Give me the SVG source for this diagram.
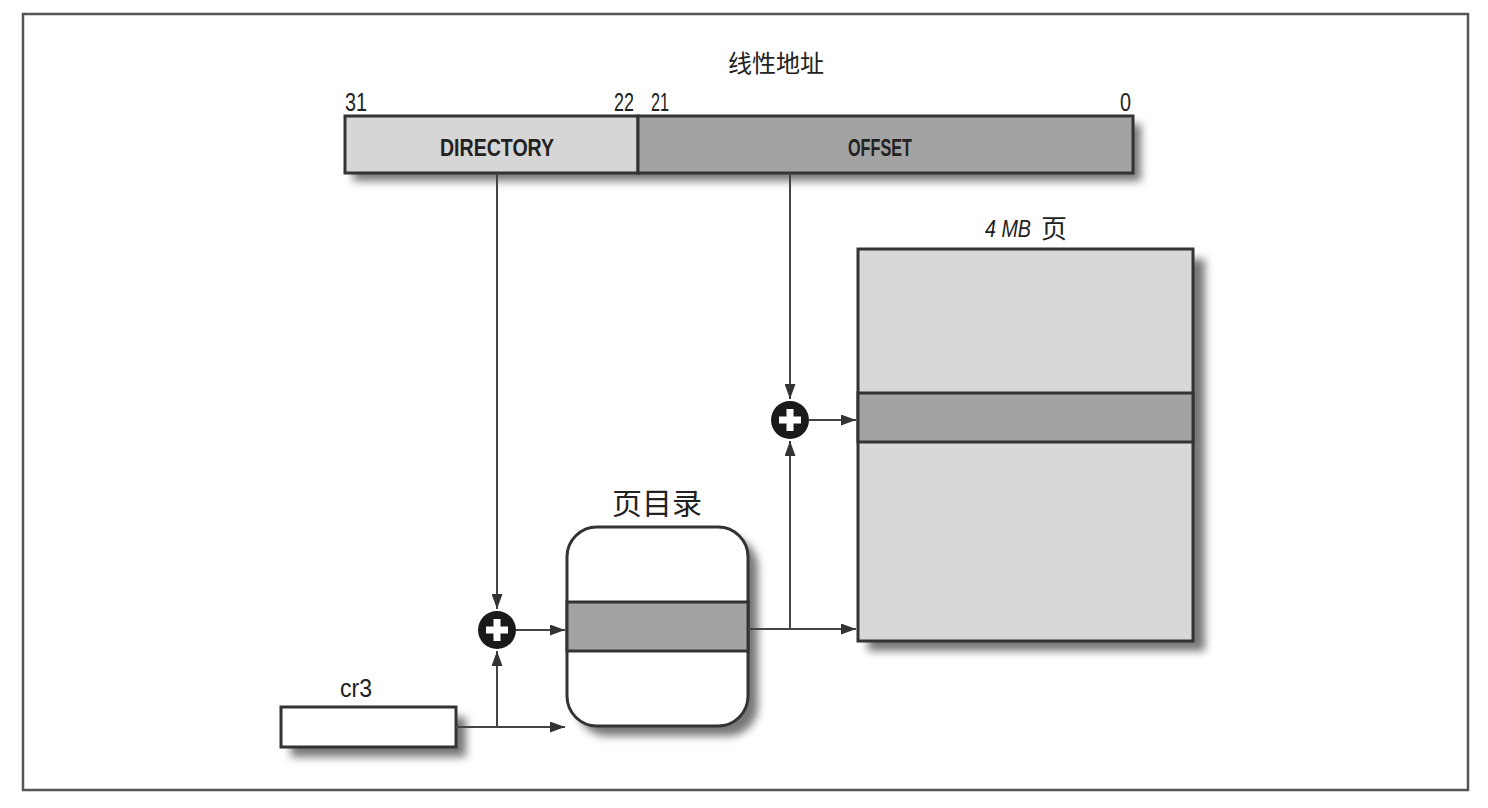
<svg xmlns="http://www.w3.org/2000/svg" width="1488" height="808" viewBox="0 0 1488 808">
<defs>
<filter id="sh" x="-20%" y="-20%" width="150%" height="150%"><feGaussianBlur stdDeviation="4"/></filter>
<marker id="ar" markerWidth="15" markerHeight="11" refX="15" refY="5.5" orient="auto" markerUnits="userSpaceOnUse"><path d="M0,0 L15,5.5 L0,11 Z" fill="#333"/></marker>
<style>
.ln{stroke:#444;stroke-width:2;fill:none}
.box{stroke:#333;stroke-width:3}
.lbl{font-family:"Liberation Sans","Noto Sans CJK SC",sans-serif;fill:#222}
.cjk{font-family:"Noto Sans CJK SC",sans-serif;fill:#222}
.shd{fill:#777;filter:url(#sh)}
</style>
</defs>
<rect x="0" y="0" width="1488" height="808" fill="#fff"/>
<rect x="23" y="14" width="1445" height="776" fill="none" stroke="#555" stroke-width="2.5"/>

<text class="cjk" x="776" y="72" font-size="24" text-anchor="middle">线性地址</text>

<g id="linear-address">
<rect class="shd" x="353" y="124" width="788" height="57"/>
<rect x="345" y="116" width="293" height="57" fill="#d6d6d6" class="box"/>
<rect x="638" y="116" width="495" height="57" fill="#a3a3a3" class="box"/>
<text class="lbl" x="345" y="111" font-size="25" textLength="22" lengthAdjust="spacingAndGlyphs">31</text>
<text class="lbl" x="614" y="111" font-size="25" textLength="20" lengthAdjust="spacingAndGlyphs">22</text>
<text class="lbl" x="651" y="111" font-size="25" textLength="18" lengthAdjust="spacingAndGlyphs">21</text>
<text class="lbl" x="1120" y="111" font-size="25" textLength="11" lengthAdjust="spacingAndGlyphs">0</text>
<text class="lbl" x="497" y="156" font-size="23" font-weight="bold" text-anchor="middle" textLength="114" lengthAdjust="spacingAndGlyphs">DIRECTORY</text>
<text class="lbl" x="880" y="156" font-size="23" font-weight="bold" text-anchor="middle" textLength="64" lengthAdjust="spacingAndGlyphs">OFFSET</text>
</g>

<g id="page-4mb">
<text class="lbl" x="985" y="237" font-size="24" font-style="italic" textLength="46" lengthAdjust="spacingAndGlyphs">4 MB</text>
<text class="cjk" x="1054" y="238" font-size="26" text-anchor="middle">页</text>
<rect class="shd" x="868" y="259" width="337" height="392"/>
<rect x="858" y="249" width="335" height="392" fill="#d8d8d8" class="box"/>
<rect x="858" y="393" width="335" height="49" fill="#a3a3a3" class="box"/>
</g>

<g id="page-directory">
<text class="cjk" x="657" y="514" font-size="30" text-anchor="middle">页目录</text>
<rect class="shd" x="577" y="537" width="181" height="199" rx="30"/>
<rect x="567" y="527" width="181" height="199" rx="30" fill="#fff" class="box"/>
<rect x="567" y="602" width="181" height="49" fill="#a3a3a3" class="box"/>
</g>

<g id="cr3">
<text class="lbl" x="356" y="697" font-size="25" text-anchor="middle" textLength="32" lengthAdjust="spacingAndGlyphs">cr3</text>
<rect class="shd" x="291" y="717" width="175" height="40"/>
<rect x="281" y="707" width="175" height="40" fill="#fff" class="box"/>
</g>

<g id="plus-upper">
<circle cx="790" cy="420" r="19" fill="#1a1a1a"/>
<path d="M779,420 H801 M790,409 V431" stroke="#fff" stroke-width="7"/>
</g>
<g id="plus-lower">
<circle cx="497" cy="630" r="19" fill="#1a1a1a"/>
<path d="M486,630 H508 M497,619 V641" stroke="#fff" stroke-width="7"/>
</g>

<g id="connectors">
<path class="ln" d="M497,173 V609" marker-end="url(#ar)"/>
<path class="ln" d="M790,173 V399" marker-end="url(#ar)"/>
<path class="ln" d="M809,420 H856" marker-end="url(#ar)"/>
<path class="ln" d="M516,630 H565" marker-end="url(#ar)"/>
<path class="ln" d="M748,629 H856" marker-end="url(#ar)"/>
<path class="ln" d="M790,629 V441" marker-end="url(#ar)"/>
<path class="ln" d="M456,727 H565" marker-end="url(#ar)"/>
<path class="ln" d="M497,727 V651" marker-end="url(#ar)"/>
</g>
</svg>
